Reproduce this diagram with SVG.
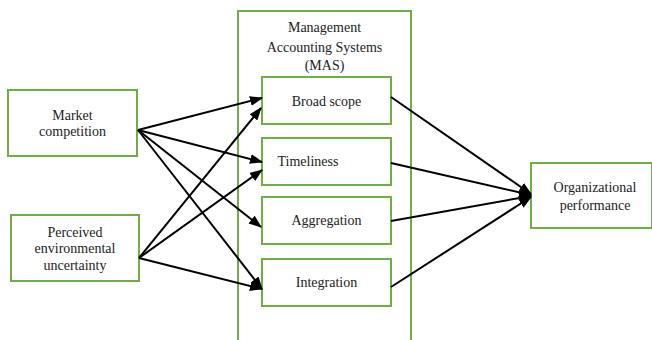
<svg xmlns="http://www.w3.org/2000/svg" width="652" height="340" viewBox="0 0 652 340">
<style>
.box{fill:#fff;stroke:#70AD47;stroke-width:2}
.t{font-family:"Liberation Serif","Times New Roman",serif;font-size:14px;fill:#222;text-anchor:middle}
.c{stroke:#000;stroke-width:2;fill:none;marker-end:url(#ah)}
</style>
<defs>
<marker id="ah" markerUnits="userSpaceOnUse" markerWidth="13" markerHeight="10" refX="12" refY="5" orient="auto">
<path d="M0,0 L13,5 L0,10 z" fill="#000"/>
</marker>
</defs>
<rect width="652" height="340" fill="#fff"/>
<g id="mas">
<rect class="box" x="238" y="11" width="173" height="330"/>
<text class="t" x="324.5" y="32">Management</text>
<text class="t" x="324.5" y="52">Accounting Systems</text>
<text class="t" x="324.5" y="70">(MAS)</text>
</g>
<g id="market">
<rect class="box" x="8" y="90" width="129" height="66"/>
<text class="t" x="72.5" y="120">Market</text>
<text class="t" x="72.5" y="136">competition</text>
</g>
<g id="peu">
<rect class="box" x="11" y="215" width="128" height="66"/>
<text class="t" x="75" y="237">Perceived</text>
<text class="t" x="75" y="253">environmental</text>
<text class="t" x="75" y="270">uncertainty</text>
</g>
<g id="broad">
<rect class="box" x="262" y="77" width="129" height="47"/>
<text class="t" x="326.5" y="106">Broad scope</text>
</g>
<g id="timeliness">
<rect class="box" x="262" y="138" width="129" height="47"/>
<text class="t" x="308" y="166">Timeliness</text>
</g>
<g id="aggregation">
<rect class="box" x="262" y="197" width="129" height="47"/>
<text class="t" x="326.5" y="225">Aggregation</text>
</g>
<g id="integration">
<rect class="box" x="262" y="259" width="129" height="47"/>
<text class="t" x="326.5" y="287">Integration</text>
</g>
<g id="performance">
<rect class="box" x="531" y="163" width="121" height="65"/>
<text class="t" x="595" y="192">Organizational</text>
<text class="t" x="595" y="210">performance</text>
</g>
<g id="connectors">
<line class="c" x1="138" y1="130" x2="262" y2="98"/>
<line class="c" x1="138" y1="130" x2="262" y2="162"/>
<line class="c" x1="138" y1="130" x2="261" y2="227"/>
<line class="c" x1="138" y1="130" x2="262" y2="289"/>
<line class="c" x1="139" y1="258" x2="261" y2="108"/>
<line class="c" x1="139" y1="258" x2="262" y2="170"/>
<line class="c" x1="139" y1="258" x2="262" y2="289"/>
<line class="c" x1="391" y1="97" x2="531" y2="194"/>
<line class="c" x1="391" y1="163" x2="531" y2="195"/>
<line class="c" x1="391" y1="221" x2="531" y2="196"/>
<line class="c" x1="391" y1="287" x2="531" y2="197"/>
</g>
</svg>
